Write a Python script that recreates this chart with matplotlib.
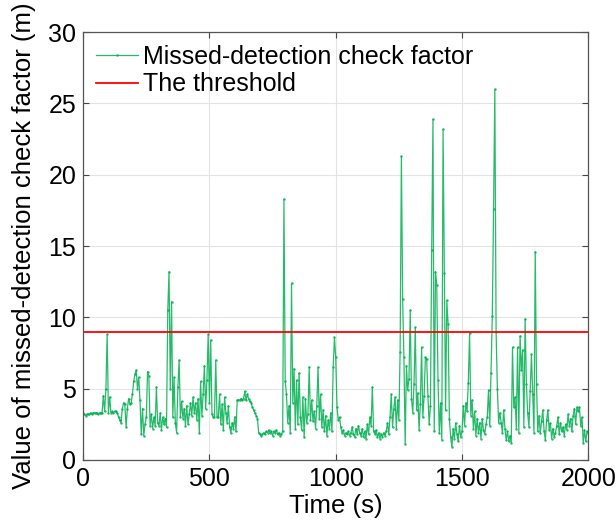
import numpy as np
import matplotlib
matplotlib.use("Agg")
import matplotlib.pyplot as plt

plt.rcParams['font.family'] = ['Liberation Sans', 'DejaVu Sans']

# sample times (s), one reading every 5 s
t = np.arange(0, 2001, 5)

# check factor values, 20 per row (100 s per row)
v = [
    3.3, 3.2, 3.1, 3.2, 3.2, 3.2, 3.3, 3.2, 3.3, 3.3, 3.3, 3.3, 3.2, 3.3, 3.3, 3.3, 4.5, 3.4, 5.0, 8.8,
    3.3, 4.4, 3.3, 3.4, 3.3, 3.4, 3.4, 3.3, 3.0, 2.8, 2.6, 3.6, 4.0, 3.9, 2.3, 3.6, 4.3, 3.9, 4.0, 4.6,
    5.5, 6.0, 6.3, 5.0, 5.8, 4.2, 1.8, 3.6, 1.7, 2.5, 3.0, 6.2, 5.9, 2.4, 3.2, 2.2, 3.0, 2.4, 5.1, 2.6,
    2.4, 3.3, 2.1, 3.0, 2.5, 2.9, 2.3, 10.5, 13.2, 5.0, 11.1, 3.0, 5.8, 2.6, 1.9, 5.1, 7.0, 3.0, 4.1, 2.9,
    3.6, 2.4, 3.8, 2.5, 3.2, 4.0, 3.1, 4.4, 3.3, 4.0, 2.8, 4.3, 1.9, 5.5, 3.1, 4.6, 6.6, 3.6, 5.6, 8.8,
    4.0, 8.4, 3.2, 3.0, 3.0, 7.0, 3.0, 3.0, 4.6, 2.5, 3.9, 2.1, 4.4, 3.3, 2.6, 3.8, 2.3, 1.9, 2.6, 2.2,
    3.0, 2.0, 4.2, 4.2, 4.2, 4.3, 4.2, 4.3, 4.8, 4.2, 4.6, 4.3, 4.1, 4.0, 3.7, 3.5, 3.3, 3.1, 2.9, 1.9,
    1.8, 1.7, 1.8, 1.9, 1.8, 2.0, 1.9, 2.1, 1.9, 2.0, 1.7, 2.0, 1.9, 2.1, 1.8, 1.9, 1.7, 1.8, 2.0, 18.3,
    5.5, 4.6, 2.6, 3.8, 1.9, 12.4, 4.0, 6.4, 2.2, 5.6, 2.5, 6.1, 3.0, 2.1, 4.4, 1.6, 4.3, 2.6, 3.2, 6.5,
    2.8, 4.2, 2.7, 3.4, 2.2, 3.8, 6.5, 2.9, 4.6, 2.3, 3.5, 2.0, 3.1, 1.7, 2.8, 2.2, 3.3, 2.0, 6.5, 8.6,
    7.2, 3.7, 2.8, 3.0, 2.3, 1.9, 2.1, 1.7, 1.9, 1.8, 2.0, 1.7, 1.9, 2.3, 1.8, 1.6, 2.2, 1.8, 2.4, 1.9,
    1.7, 2.2, 1.6, 2.0, 1.5, 2.5, 1.8, 3.0, 2.4, 5.1, 2.0, 1.8, 2.1, 1.6, 1.9, 1.5, 1.8, 1.6, 1.9, 1.7,
    2.0, 2.6, 1.8, 3.0, 4.6, 2.3, 3.6, 4.4, 2.2, 4.2, 2.8, 7.6, 21.3, 11.3, 7.2, 1.1, 6.6, 4.9, 5.7, 10.5,
    4.3, 3.3, 5.3, 9.3, 3.5, 4.7, 2.1, 3.9, 7.9, 3.0, 4.5, 7.2, 7.1, 4.5, 2.5, 3.8, 14.7, 23.9, 2.0, 13.2,
    12.3, 5.6, 1.9, 4.0, 1.4, 23.2, 13.1, 3.5, 11.2, 9.5, 2.9, 1.6, 0.9, 2.2, 1.5, 2.6, 1.8, 1.3, 2.4, 1.6,
    2.0, 3.8, 2.4, 4.0, 3.4, 5.4, 8.9, 3.1, 4.2, 2.2, 3.4, 1.7, 2.9, 1.9, 2.6, 1.5, 2.9, 2.1, 1.8, 2.5,
    3.0, 4.9, 2.4, 6.1, 10.1, 17.6, 26.0, 9.0, 5.0, 2.6, 3.3, 2.6, 1.9, 3.5, 2.2, 1.4, 2.0, 1.3, 1.7, 1.2,
    7.9, 3.7, 4.4, 2.2, 7.9, 1.9, 8.7, 6.3, 7.7, 2.3, 9.9, 5.3, 3.3, 2.3, 4.8, 7.4, 4.6, 1.9, 14.6, 5.3,
    2.0, 3.1, 1.9, 2.7, 3.5, 2.0, 1.4, 2.8, 3.5, 2.1, 2.6, 1.5, 2.2, 1.6, 1.9, 2.4, 3.0, 1.8, 2.6, 2.0,
    2.3, 1.7, 2.5, 2.1, 3.2, 2.4, 2.9, 2.0, 3.1, 3.6, 2.5, 3.7, 3.4, 3.7, 2.4, 3.0, 1.2, 2.1, 1.3, 2.0,
    1.9,
]

threshold = 9

fig = plt.figure(figsize=(6.16, 5.28), dpi=100)
ax = fig.add_axes([0.135, 0.129, 0.82, 0.81])

green = '#00b050'
ax.plot(t, v, color=green, lw=0.9, alpha=0.85, marker='.', markersize=3.5,
        markeredgewidth=0, label='Missed-detection check factor')
ax.axhline(threshold, color='#ff0000', lw=1.3, label='The threshold')

ax.set_xlim(0, 2000)
ax.set_ylim(0, 30)
ax.set_xticks([0, 500, 1000, 1500, 2000])
ax.set_yticks([0, 5, 10, 15, 20, 25, 30])
ax.grid(True, color='#e3e3e3', lw=0.8)
ax.set_axisbelow(True)
ax.tick_params(direction='in', top=True, right=True, labelsize=18,
               length=4, color='#444444', pad=5)
for s in ax.spines.values():
    s.set_color('#555555')
    s.set_linewidth(0.9)

ax.set_xlabel('Time (s)', fontsize=18.5, labelpad=2)
ax.set_ylabel('Value of missed-detection check factor (m)', fontsize=18.5, labelpad=9)

ax.legend(loc='upper left', frameon=False, fontsize=18, handlelength=1.7,
          handletextpad=0.2, borderaxespad=0.2, borderpad=0.3, labelspacing=0.15)

fig.savefig('out.png', dpi=100)
